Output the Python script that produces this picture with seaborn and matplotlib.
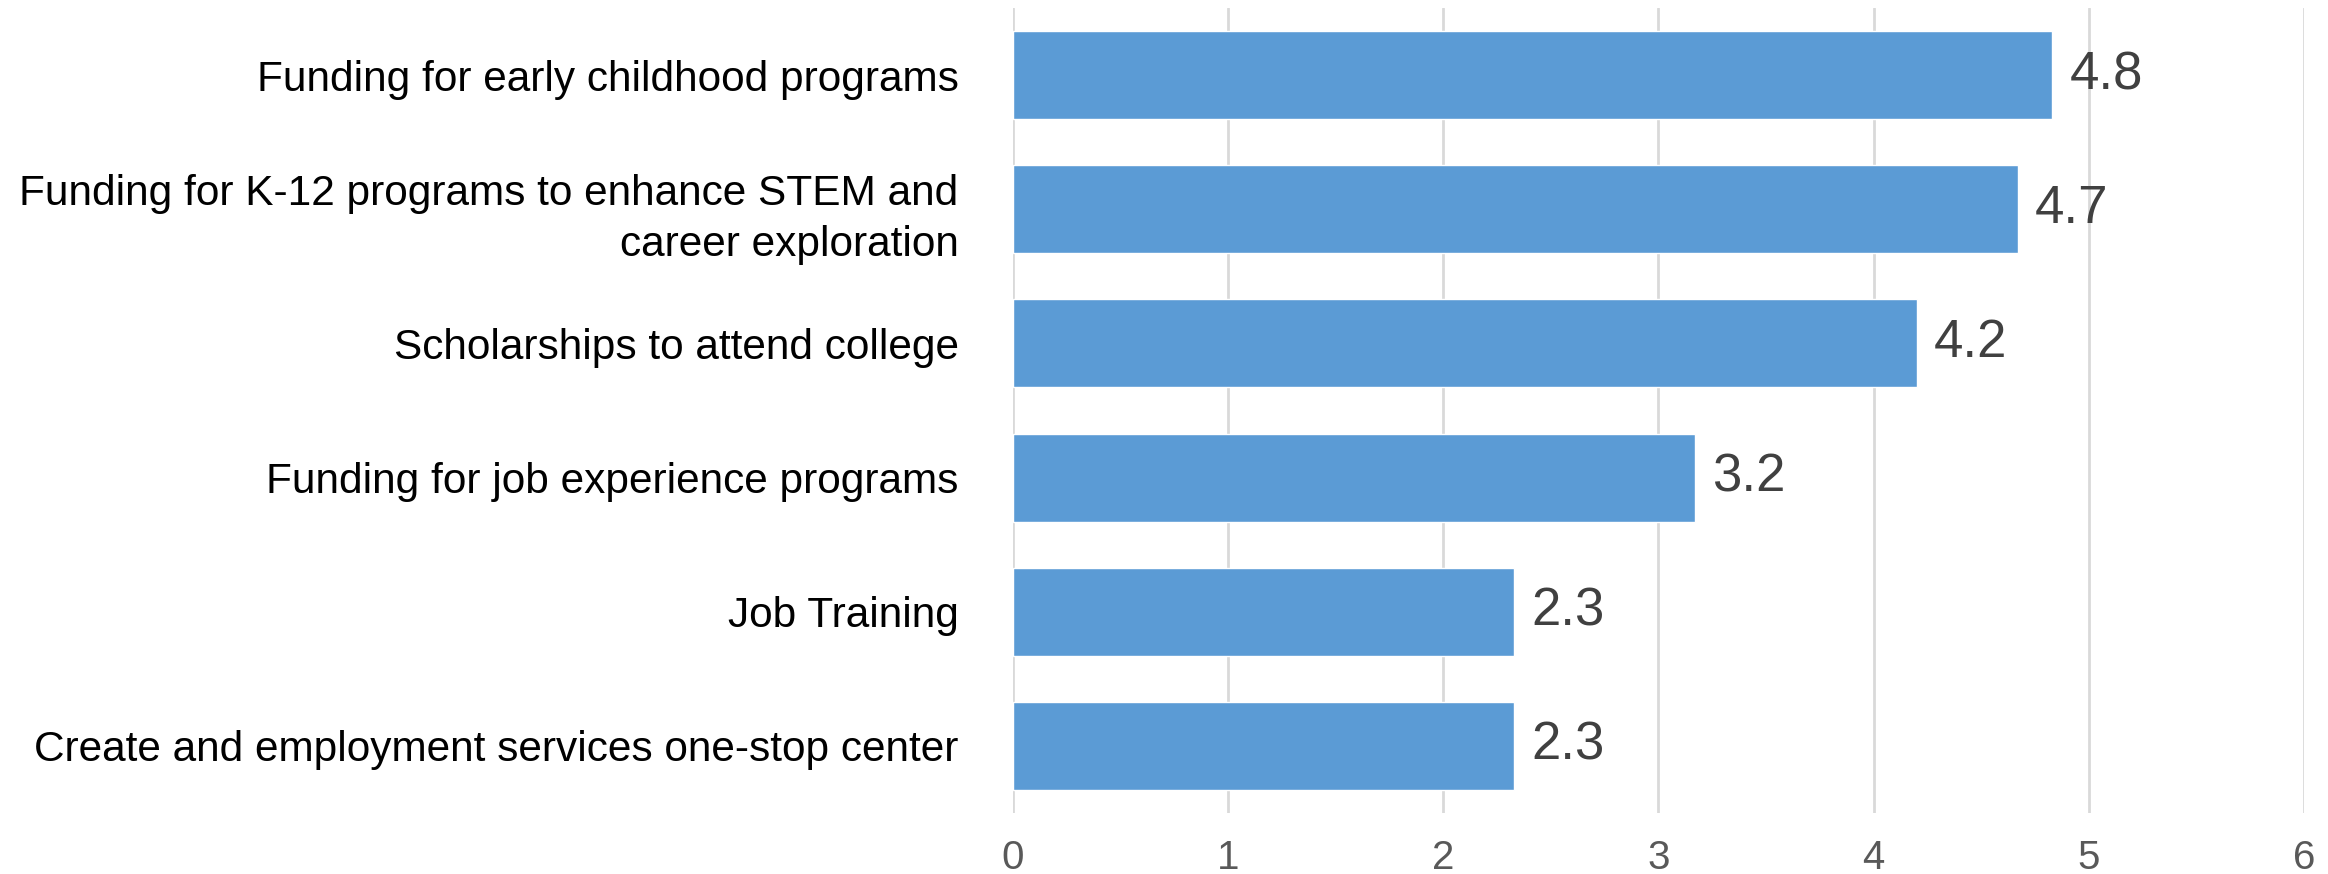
import matplotlib.pyplot as plt
import pandas as pd
import seaborn as sns

categories = [
    "Funding for early childhood programs",
    "Funding for K-12 programs to enhance STEM and\ncareer exploration",
    "Scholarships to attend college",
    "Funding for job experience programs",
    "Job Training",
    "Create and employment services one-stop center",
]
scores = [4.83, 4.67, 4.20, 3.17, 2.33, 2.33]
value_labels = ["4.8", "4.7", "4.2", "3.2", "2.3", "2.3"]
x_ticks = [0, 1, 2, 3, 4, 5, 6]

df = pd.DataFrame({"category": categories, "score": scores})

sns.set_theme(style="white")
plt.rcParams["font.family"] = ["Liberation Sans", "DejaVu Sans"]

fig = plt.figure(figsize=(23.28, 8.74), dpi=100)
ax = fig.add_axes([0.4351, 0.0698, 0.9897 - 0.4351, 0.9908 - 0.0698])

sns.barplot(data=df, y="category", x="score", orient="h", color="#5B9BD5",
            saturation=1, width=0.656, ax=ax, zorder=3)

ax.set_xlim(0, 6)
ax.set_xticks(x_ticks)
ax.xaxis.grid(True, color="#d9d9d9", linewidth=2, zorder=0)
ax.set_axisbelow(True)
for s in ax.spines.values():
    s.set_visible(False)

ax.set_xlabel("")
ax.set_ylabel("")
ax.tick_params(axis="x", length=0, pad=19, labelsize=29, labelcolor="#595959")
ax.tick_params(axis="y", length=0, pad=39, labelsize=30.5, labelcolor="#000000")
for t in ax.get_yticklabels():
    t.set_linespacing(1.35)

for i, (v, lab) in enumerate(zip(scores, value_labels)):
    ax.text(v + 0.08, i, lab, va="center", ha="left", fontsize=38, color="#404040")

fig.savefig("out.png", dpi=100)
